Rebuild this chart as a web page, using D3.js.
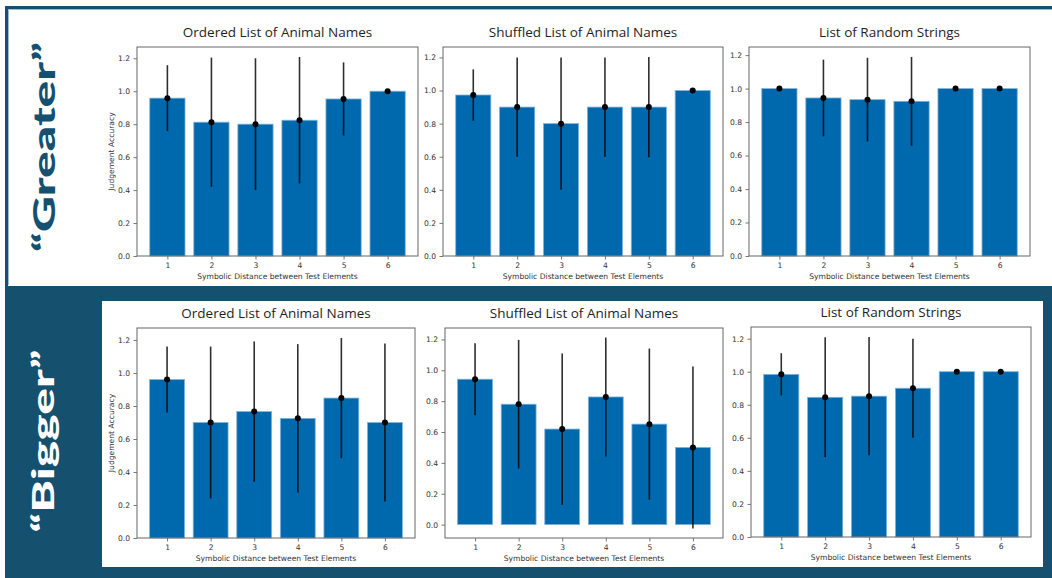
<!DOCTYPE html>
<html>
<head>
<meta charset="utf-8">
<script src="https://cdn.jsdelivr.net/npm/d3@7"></script>
<style>
  html, body { margin: 0; padding: 0; background: #ffffff; }
  svg { display: block; }
</style>
</head>
<body>
<svg id="chart" width="1052" height="578"></svg>
<script>
// Symbolic distance between the two compared elements
const distances = [1, 2, 3, 4, 5, 6];
const yTicks = [0, 0.2, 0.4, 0.6, 0.8, 1.0, 1.2];

const panelTitles = ["Ordered List of Animal Names", "Shuffled List of Animal Names", "List of Random Strings"];
const rowLabels = ["\u201CGreater\u201D", "\u201CBigger\u201D"];

// "Greater" prompt: mean accuracy and standard deviation per distance
const greaterOrderedMean   = [0.958, 0.812, 0.800, 0.824, 0.953, 1.000];
const greaterOrderedErr    = [0.200, 0.392, 0.400, 0.384, 0.222, 0.000];
const greaterShuffledMean  = [0.973, 0.900, 0.800, 0.900, 0.900, 1.000];
const greaterShuffledErr   = [0.155, 0.300, 0.400, 0.300, 0.303, 0.000];
const greaterRandomMean    = [1.000, 0.944, 0.934, 0.924, 1.000, 1.000];
const greaterRandomErr     = [0.000, 0.229, 0.250, 0.265, 0.000, 0.000];

// "Bigger" prompt
const biggerOrderedMean    = [0.960, 0.700, 0.766, 0.725, 0.848, 0.700];
const biggerOrderedErr     = [0.200, 0.460, 0.425, 0.450, 0.364, 0.479];
const biggerShuffledMean   = [0.942, 0.780, 0.619, 0.827, 0.651, 0.500];
const biggerShuffledErr    = [0.233, 0.417, 0.490, 0.385, 0.490, 0.525];
const biggerRandomMean     = [0.984, 0.845, 0.852, 0.900, 1.000, 1.000];
const biggerRandomErr      = [0.128, 0.363, 0.358, 0.300, 0.000, 0.000];

const rows = [
  { label: rowLabels[0], series: [
      [greaterOrderedMean, greaterOrderedErr],
      [greaterShuffledMean, greaterShuffledErr],
      [greaterRandomMean, greaterRandomErr]] },
  { label: rowLabels[1], series: [
      [biggerOrderedMean, biggerOrderedErr],
      [biggerShuffledMean, biggerShuffledErr],
      [biggerRandomMean, biggerRandomErr]] }
];

const DARK = "#15506f";
const BAR = "#0068ad";

const svg = d3.select("#chart");

// --- slide frame ---------------------------------------------------------
svg.append("rect").attr("x", 5).attr("y", 6).attr("width", 1047).attr("height", 3).attr("fill", DARK);
svg.append("rect").attr("x", 8).attr("y", 9).attr("width", 1044).attr("height", 1).attr("fill", "#9dbbd0");
svg.append("rect").attr("x", 5).attr("y", 6).attr("width", 3).attr("height", 280).attr("fill", DARK);
svg.append("rect").attr("x", 8).attr("y", 9).attr("width", 1).attr("height", 276).attr("fill", "#9dbbd0");
svg.append("rect").attr("x", 5).attr("y", 286).attr("width", 1047).attr("height", 292).attr("fill", DARK);
svg.append("rect").attr("x", 102).attr("y", 301).attr("width", 941).attr("height", 266).attr("fill", "#ffffff");

// Row labels, rotated along the left edge and stretched to the target length
const labelSpec = [
  { cx: 55, cy: 147, len: 210, fill: DARK },
  { cx: 54, cy: 441, len: 183, fill: "#ffffff" }
];
rows.forEach((r, i) => {
  const s = labelSpec[i];
  const t = svg.append("text")
    .attr("text-anchor", "middle")
    .attr("font-family", "Lato, 'Open Sans', sans-serif")
    .attr("font-weight", 900)
    .attr("font-size", 31)
    .attr("fill", s.fill)
    .text(r.label);
  const w = t.node().getComputedTextLength() || s.len;
  t.attr("transform", `translate(${s.cx},${s.cy}) rotate(-90) scale(${s.len / w},1)`);
});

// --- panels --------------------------------------------------------------
const boxes = [
  [[137, 47, 418, 256], [443, 47, 723, 256], [749, 47, 1030, 256]],
  [[137, 328, 415, 538], [445, 328, 723, 538], [751, 327, 1031, 537]]
];

rows.forEach((row, ri) => {
  row.series.forEach(([means, errs], pi) => {
    const [x0, y0, x1, y1] = boxes[ri][pi];
    const g = svg.append("g");

    // matplotlib-style autoscaling: 5% margins, bars stick to zero
    const lo = d3.min(means.map((m, i) => m - errs[i]));
    const hi = d3.max(means.map((m, i) => m + errs[i]));
    const dmin = Math.min(0, lo), dmax = hi;
    const span = dmax - dmin;
    const yMin = lo < 0 ? dmin - 0.05 * span : 0;
    const yMax = dmax + 0.05 * span;

    const barW = 0.8;
    const xLo = 1 - barW / 2, xHi = 6 + barW / 2;
    const xPad = 0.05 * (xHi - xLo);
    const x = d3.scaleLinear().domain([xLo - xPad, xHi + xPad]).range([x0, x1]);
    const y = d3.scaleLinear().domain([yMin, yMax]).range([y1, y0]);

    // bars
    g.selectAll("rect.bar").data(distances).join("rect")
      .attr("class", "bar")
      .attr("x", d => x(d - barW / 2))
      .attr("width", d => x(d + barW / 2) - x(d - barW / 2))
      .attr("y", (d, i) => y(means[i]))
      .attr("height", (d, i) => y(0) - y(means[i]))
      .attr("fill", BAR)
      .attr("stroke", "#7fb2d9")
      .attr("stroke-width", 0.8);

    // error bars
    g.selectAll("line.err").data(distances).join("line")
      .attr("x1", d => x(d)).attr("x2", d => x(d))
      .attr("y1", (d, i) => y(means[i] - errs[i]))
      .attr("y2", (d, i) => y(means[i] + errs[i]))
      .attr("stroke", "#000")
      .attr("stroke-opacity", 0.82)
      .attr("stroke-width", 1.6);

    g.selectAll("circle.pt").data(distances).join("circle")
      .attr("cx", d => x(d))
      .attr("cy", (d, i) => y(means[i]))
      .attr("r", 3)
      .attr("fill", "#000");

    // axes
    const yAxis = d3.axisLeft(y).tickValues(yTicks).tickFormat(d3.format(".1f")).tickSize(3.5).tickPadding(3.5);
    const xAxis = d3.axisBottom(x).tickValues(distances).tickFormat(d3.format("d")).tickSize(3.5).tickPadding(3.5);

    const ya = g.append("g").attr("transform", `translate(${x0},0)`).call(yAxis);
    const xa = g.append("g").attr("transform", `translate(0,${y1})`).call(xAxis);
    [ya, xa].forEach(a => {
      a.select(".domain").remove();
      a.selectAll("line").attr("stroke", "#555").attr("stroke-width", 0.8);
      a.selectAll("text").attr("font-family", "'DejaVu Sans', sans-serif").attr("font-size", 7.6).attr("fill", "#333");
    });

    // frame
    g.append("rect")
      .attr("x", x0).attr("y", y0).attr("width", x1 - x0).attr("height", y1 - y0)
      .attr("fill", "none").attr("stroke", "#666").attr("stroke-width", 1);

    // titles and axis labels
    g.append("text")
      .attr("x", (x0 + x1) / 2).attr("y", y0 - 10)
      .attr("text-anchor", "middle")
      .attr("font-family", "'Open Sans', sans-serif")
      .attr("font-size", 13.5)
      .attr("fill", "#1e1e1e")
      .text(panelTitles[pi]);

    g.append("text")
      .attr("x", (x0 + x1) / 2).attr("y", y1 + 23)
      .attr("text-anchor", "middle")
      .attr("font-family", "'DejaVu Sans', sans-serif")
      .attr("font-size", 7.6)
      .attr("fill", "#333")
      .text("Symbolic Distance between Test Elements");

    if (pi === 0) {
      g.append("text")
        .attr("transform", `translate(${x0 - 23},${(y0 + y1) / 2}) rotate(-90)`)
        .attr("text-anchor", "middle")
        .attr("font-family", "'DejaVu Sans', sans-serif")
        .attr("font-size", 7.6)
        .attr("fill", "#333")
        .text("Judgement Accuracy");
    }
  });
});
</script>
</body>
</html>
